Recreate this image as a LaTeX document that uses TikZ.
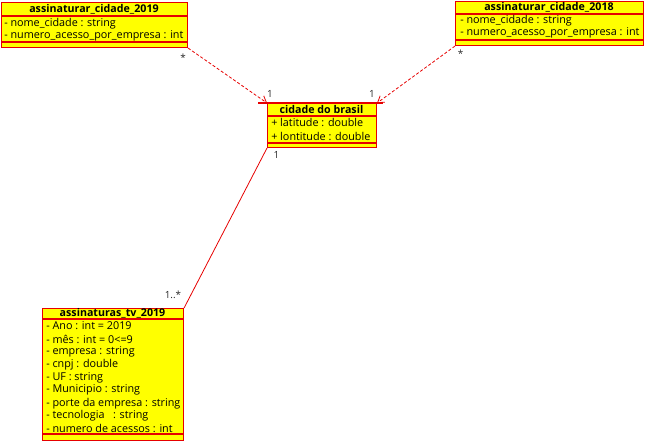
\documentclass[tikz,border=0pt]{standalone}
\usepackage{fontspec}
\setmainfont{Open Sans}
\usetikzlibrary{arrows.meta}
\def\px{0.75pt}
\definecolor{umlred}{RGB}{230,0,0}
\definecolor{umlyellow}{RGB}{255,255,0}
\tikzset{
  umlbox/.style={draw=umlred, fill=umlyellow, line width=0.8pt, inner sep=0pt, anchor=north west},
  sepline/.style={draw=umlred, line width=0.8pt},
  ttl/.style={font=\fontsize{8}{9}\selectfont\bfseries, inner sep=0pt},
  attr/.style={font=\fontsize{8.1}{9}\selectfont, inner sep=0pt, anchor=west},
  mult/.style={font=\fontsize{7.4}{9}\selectfont, inner sep=0pt, text=black!85},
  dep/.style={draw=umlred, line width=0.6pt, dash pattern=on 2.25pt off 1.5pt, -{Straight Barb[length=4.5pt,width=6pt]}},
  assoc/.style={draw=umlred, line width=0.6pt},
}
\begin{document}
\begin{tikzpicture}[x=0.75pt,y=-0.75pt]
\useasboundingbox (0,0) rectangle (645,441);
% box A
\node[umlbox, minimum width=186*\px, minimum height=45*\px] (a) at (1,2) {};
\draw[sepline] (1,16) -- (187,16) (1,42) -- (187,42);
\node[ttl] (at) at (94,9.5) {assinaturar\_cidade\_2019};
\node[attr] (a1) at (4,24) {- nome\_cidade : string};
\node[attr] (a2) at (4,36) {- numero\_acesso\_por\_empresa : int};
% box B
\node[umlbox, minimum width=188*\px, minimum height=44*\px] (b) at (455,1) {};
\draw[sepline] (455,14) -- (643,14) (455,40) -- (643,40);
\node[ttl] (bt) at (549,7) {assinaturar\_cidade\_2018};
\node[attr] (b1) at (460,20.5) {- nome\_cidade : string};
\node[attr] (b2) at (460,33) {- numero\_acesso\_por\_empresa : int};
% box C
\node[umlbox, minimum width=109*\px, minimum height=44*\px] (c) at (267,103) {};
\draw[sepline] (258,103) -- (383,103);
\draw[sepline] (267,116) -- (376,116) (267,143) -- (376,143);
\node[ttl] (ct) at (321.5,109.5) {cidade do brasil};
\node[attr] (c1) at (271,122.5) {+ latitude : double};
\node[attr] (c2) at (271,136.5) {+ lontitude : double};
% box D
\node[umlbox, minimum width=141*\px, minimum height=132*\px] (d) at (42,308) {};
\draw[sepline] (42,319) -- (183,319) (42,434) -- (183,434);
\node[ttl] (dt) at (112.5,313.5) {assinaturas\_tv\_2019};
\node[attr] (d1) at (46,325.8) {- Ano : int = 2019};
\node[attr] (d2) at (46,339.5) {- mês : int = 0<=9};
\node[attr] (d3) at (46,352.3) {- empresa : string};
\node[attr] (d4) at (46,364.5) {- cnpj : double};
\node[attr] (d5) at (46,377.5) {- UF : string};
\node[attr] (d6) at (46,390.3) {- Municipio : string};
\node[attr] (d7) at (46,403.3) {- porte da empresa : string};
\node[attr] (d8) at (46,415.7) {- tecnologia \ \ : string};
\node[attr] (d9) at (46,428.2) {- numero de acessos : int};
% connectors
\draw[dep] (a.south east) -- (c.north west);
\draw[dep] (b.south west) -- (c.north east);
\draw[assoc] (c.south west) -- (d.north east);
% multiplicities
\node[mult] (m1) at (183,58) {*};
\node[mult] (m2) at (270,94) {1};
\node[mult] (m3) at (372,94) {1};
\node[mult] (m4) at (460.5,54) {*};
\node[mult] (m5) at (276.5,155) {1};
\node[mult] (m6) at (173,295) {1..*};
\end{tikzpicture}
\end{document}
